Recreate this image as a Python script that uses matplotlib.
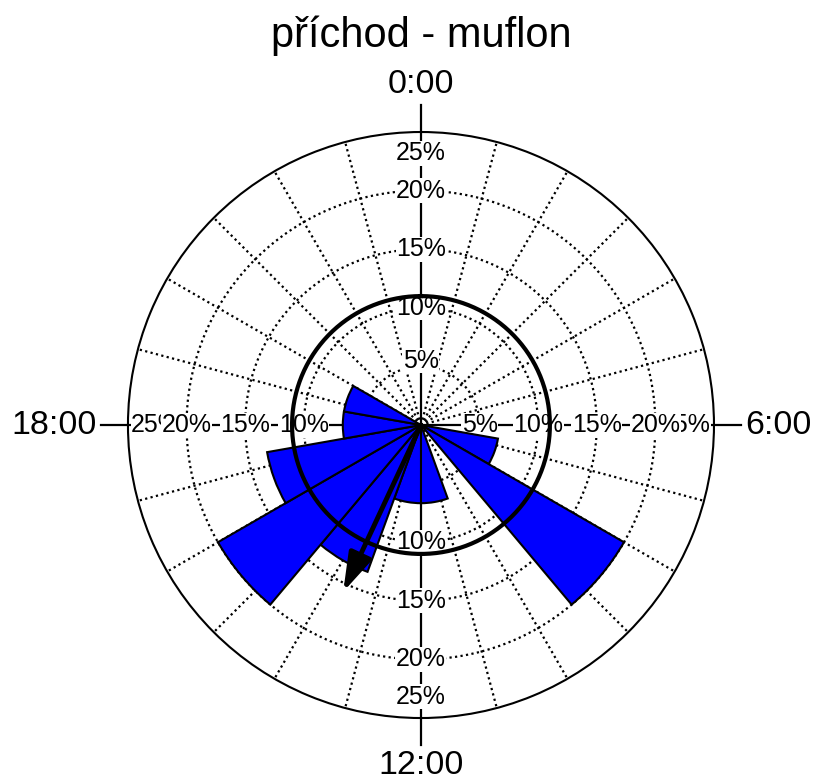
import numpy as np
import matplotlib
matplotlib.use("Agg")
import matplotlib.pyplot as plt

plt.rcParams['font.family'] = ['Liberation Sans', 'DejaVu Sans']

# rose diagram: 18 bins of 20 degrees (1 h 20 min), clockwise from 0:00
bin_start_deg = [0, 20, 40, 60, 80, 100, 120, 140, 160, 180,
                 200, 220, 240, 260, 280, 300, 320, 340]
freq_pct = [0, 0, 0, 0, 0, 6.67, 20, 0, 6.67, 6.67,
            13.33, 20, 13.33, 6.67, 6.67, 0, 0, 0]

# mean vector (direction in degrees, length as % on the radial scale)
mean_dir_deg = 205
mean_len_pct = 15.7
# Rayleigh critical circle
crit_circle_pct = 11

ring_pct = [5, 10, 15, 20, 25]
ring_labels = ['5%', '10%', '15%', '20%', '25%']
hour_angles = [0, 90, 180, 270]
hour_labels = ['0:00', '6:00', '12:00', '18:00']
title = 'příchod - muflon'

fig = plt.figure(figsize=(8.13, 7.82), dpi=100)
ax = fig.add_axes([0.1574, 0.0818, 0.7208, 0.7494], projection='polar')
ax.set_theta_zero_location('N')
ax.set_theta_direction(-1)
ax.set_ylim(0, 25)
ax.set_xticks([])
ax.set_yticks([])
ax.grid(False)
ax.spines['polar'].set_linewidth(1.5)

full = np.linspace(0, 2 * np.pi, 400)

# dotted grid
for d in range(0, 360, 15):
    if d % 90 == 0:
        continue
    ax.plot([np.radians(d)] * 2, [0, 25], color='black', lw=1.6,
            ls=(0, (1, 1.5)), zorder=1)
for r in ring_pct[:-1]:
    ax.plot(full, [r] * len(full), color='black', lw=1.6,
            ls=(0, (1, 1.5)), zorder=1)

# main axes lines
for d in hour_angles:
    ax.plot([np.radians(d)] * 2, [0, 27.3], color='black', lw=1.6,
            zorder=2, clip_on=False)

# percent labels along the four axes (outermost first, inner ones cover it)
for d in hour_angles:
    for r, lab in reversed(list(zip(ring_pct, ring_labels))):
        rr = r
        if r == 25:
            rr = 23.2 if d in (0, 180) else 22.6
        elif r == 5 and d in (0, 180):
            rr = 5.5
        ax.text(np.radians(d), rr, lab, ha='center', va='center',
                fontsize=18, zorder=3,
                bbox=dict(facecolor='white', edgecolor='none', pad=0.3))

# hour labels
aligns = {0: ('center', 'bottom'), 90: ('left', 'center'),
          180: ('center', 'top'), 270: ('right', 'center')}
for d, lab in zip(hour_angles, hour_labels):
    ha, va = aligns[d]
    ax.text(np.radians(d), 27.7, lab, ha=ha, va=va, fontsize=24.5,
            clip_on=False)

# bars
theta = [np.radians(b + 10) for b, f in zip(bin_start_deg, freq_pct) if f > 0]
heights = [f for f in freq_pct if f > 0]
ax.bar(theta, heights, width=np.radians(20), color='#0000FF',
       edgecolor='black', linewidth=1.5, zorder=4)

# Rayleigh critical circle
ax.plot(full, [crit_circle_pct] * len(full), color='black', lw=3, zorder=5)

# mean vector
ax.annotate('', xy=(np.radians(mean_dir_deg), mean_len_pct), xytext=(0, 0),
            arrowprops=dict(arrowstyle='-|>,head_length=0.9,head_width=0.28',
                            color='black', lw=3.5, mutation_scale=26,
                            shrinkA=0, shrinkB=0),
            zorder=6)

fig.text(0.518, 0.954, title, ha='center', va='center', fontsize=30)

plt.savefig('out.png', dpi=100)
